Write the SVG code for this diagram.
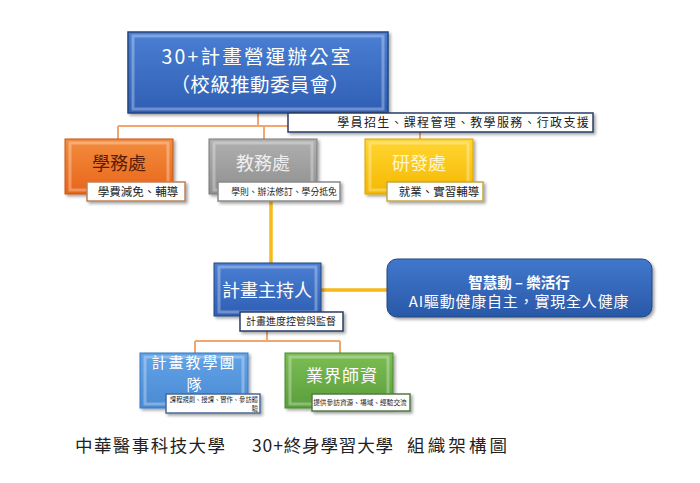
<svg xmlns="http://www.w3.org/2000/svg" width="700" height="483" viewBox="0 0 700 483">
<style>
.cjk{font-family:"Noto Sans CJK TC","Noto Sans CJK SC",sans-serif}
.lbl{text-anchor:middle}
.cap{fill:#fff;stroke-width:1.5}
.captxt{fill:#222}
.bev{fill:none;stroke:#fff;stroke-opacity:0.3;stroke-width:3}
.conn{fill:none;stroke:#f2a66e;stroke-width:2}
.connY{fill:none;stroke:#f6b91c;stroke-width:3.5}
</style>
<defs>
<linearGradient id="gBlue" x1="0" y1="0" x2="0" y2="1"><stop offset="0" stop-color="#4a7fd3"/><stop offset="1" stop-color="#2f5fb4"/></linearGradient>
<linearGradient id="gOrange" x1="0" y1="0" x2="0" y2="1"><stop offset="0" stop-color="#f38c3c"/><stop offset="1" stop-color="#e8651c"/></linearGradient>
<linearGradient id="gGray" x1="0" y1="0" x2="0" y2="1"><stop offset="0" stop-color="#b0b0b0"/><stop offset="1" stop-color="#8f8f8f"/></linearGradient>
<linearGradient id="gYellow" x1="0" y1="0" x2="0" y2="1"><stop offset="0" stop-color="#ffd633"/><stop offset="1" stop-color="#f5b800"/></linearGradient>
<linearGradient id="gLBlue" x1="0" y1="0" x2="0" y2="1"><stop offset="0" stop-color="#62a3e6"/><stop offset="1" stop-color="#4a8ad4"/></linearGradient>
<linearGradient id="gGreen" x1="0" y1="0" x2="0" y2="1"><stop offset="0" stop-color="#7cbd55"/><stop offset="1" stop-color="#5a9e3c"/></linearGradient>
<linearGradient id="gAI" x1="0" y1="0" x2="0" y2="1"><stop offset="0" stop-color="#4078cc"/><stop offset="1" stop-color="#2a58a8"/></linearGradient>
<filter id="sh" x="-10%" y="-10%" width="130%" height="140%"><feDropShadow dx="2" dy="2" stdDeviation="1.5" flood-color="#000" flood-opacity="0.35"/></filter>
</defs>

<g id="connectors">
<path class="conn" d="M258 113 V126 M118 126 H420 M118 126 V139 M264 126 V139 M420 126 V139"/>
<path class="connY" d="M271 201 V263 M321 290 H387"/>
<path class="conn" d="M267 331 V341 M195 341 H340 M195 341 V353 M340 341 V353"/>
</g>

<g id="office">
<rect x="128" y="32" width="260" height="81" fill="url(#gBlue)" stroke="#24467f" stroke-width="1.5" filter="url(#sh)"/>
<rect class="bev" x="133" y="36" width="250" height="73"/>
<text class="cjk lbl" x="257" y="64" font-size="19.5" fill="#fff" letter-spacing="2.2">30+計畫營運辦公室</text>
<text class="cjk lbl" x="260" y="92" font-size="19.5" fill="#fff" letter-spacing="0.4">（校級推動委員會）</text>
</g>
<g id="office-cap">
<rect class="cap" x="288" y="113" width="305" height="19" stroke="#2a3d66" filter="url(#sh)"/>
<text class="cjk captxt" x="590" y="127" font-size="12" text-anchor="end" letter-spacing="1.3">學員招生、課程管理、教學服務、行政支援</text>
</g>

<g id="student">
<rect x="65" y="139" width="108" height="55" fill="url(#gOrange)" stroke="#c4561a" stroke-width="1" filter="url(#sh)"/>
<rect class="bev" x="70" y="143" width="98" height="47"/>
<text class="cjk lbl" x="119" y="170" font-size="18" fill="#5a1e08">學務處</text>
<rect class="cap" x="87" y="182" width="98" height="19" stroke="#c08055" filter="url(#sh)"/>
<text class="cjk lbl captxt" x="138" y="196" font-size="11.5">學費減免、輔導</text>
</g>

<g id="academic">
<rect x="209" y="139" width="108" height="55" fill="url(#gGray)" stroke="#7a7a7a" stroke-width="1" filter="url(#sh)"/>
<rect class="bev" x="214" y="143" width="98" height="47"/>
<text class="cjk lbl" x="263" y="170" font-size="18" fill="#eeeeee">教務處</text>
<rect class="cap" x="218" y="182" width="122" height="19" stroke="#8a8a8a" filter="url(#sh)"/>
<text class="cjk lbl captxt" x="284" y="195" font-size="8.8">學則、辦法修訂、學分抵免</text>
</g>

<g id="research">
<rect x="365" y="139" width="108" height="55" fill="url(#gYellow)" stroke="#d9a400" stroke-width="1" filter="url(#sh)"/>
<rect class="bev" x="370" y="143" width="98" height="47"/>
<text class="cjk lbl" x="419" y="170" font-size="18" fill="#fff6cc">研發處</text>
<rect class="cap" x="387" y="182" width="96" height="19" stroke="#c8a640" filter="url(#sh)"/>
<text class="cjk lbl captxt" x="439" y="196" font-size="11.5">就業、實習輔導</text>
</g>

<g id="pi">
<rect x="214" y="263" width="107" height="53" fill="url(#gBlue)" stroke="#24467f" stroke-width="1" filter="url(#sh)"/>
<rect class="bev" x="219" y="267" width="97" height="45"/>
<text class="cjk lbl" x="267" y="297" font-size="18" fill="#fff">計畫主持人</text>
<rect class="cap" x="240" y="312" width="103" height="19" stroke="#2a3d66" filter="url(#sh)"/>
<text class="cjk lbl captxt" x="291" y="325" font-size="10">計畫進度控管與監督</text>
</g>

<g id="ai">
<rect x="387" y="259" width="265" height="58" rx="10" fill="url(#gAI)" stroke="#24467f" stroke-width="1" filter="url(#sh)"/>
<text class="cjk lbl" x="519" y="288" font-size="14.5" font-weight="bold" fill="#fff">智慧動 – 樂活行</text>
<text class="cjk lbl" x="519" y="307" font-size="15" fill="#fff" letter-spacing="0.8">AI驅動健康自主，實現全人健康</text>
</g>

<g id="team">
<rect x="140" y="353" width="108" height="55" fill="url(#gLBlue)" stroke="#3a78c0" stroke-width="1" filter="url(#sh)"/>
<rect class="bev" x="145" y="357" width="98" height="47"/>
<text class="cjk lbl" x="194" y="368" font-size="15" fill="#fff" letter-spacing="2">計畫教學團</text>
<text class="cjk lbl" x="194" y="390" font-size="15" fill="#fff">隊</text>
<rect class="cap" x="166" y="394" width="94" height="19" stroke="#4a6a99" filter="url(#sh)"/>
<text class="cjk captxt" x="258" y="402" font-size="6.3" text-anchor="end">課程規劃、授課、實作、參訪體</text>
<text class="cjk captxt" x="258" y="411" font-size="6.3" text-anchor="end">驗</text>
</g>

<g id="industry">
<rect x="285" y="353" width="108" height="55" fill="url(#gGreen)" stroke="#4a8a30" stroke-width="1" filter="url(#sh)"/>
<rect class="bev" x="290" y="357" width="98" height="47"/>
<text class="cjk lbl" x="342" y="382" font-size="17" fill="#fff" letter-spacing="1">業界師資</text>
<rect class="cap" x="312" y="394" width="98" height="17" stroke="#557a44" filter="url(#sh)"/>
<text class="cjk lbl captxt" x="360" y="405" font-size="6.7">提供參訪資源、場域、經驗交流</text>
</g>

<g id="title">
<text class="cjk" x="75" y="452" font-size="17.5" fill="#222" textLength="150" lengthAdjust="spacing">中華醫事科技大學</text>
<text class="cjk" x="252" y="452" font-size="17.5" fill="#222" textLength="141" lengthAdjust="spacing">30+終身學習大學</text>
<text class="cjk" x="407" y="452" font-size="17.5" fill="#222" textLength="100" lengthAdjust="spacing">組織架構圖</text>
</g>
</svg>
